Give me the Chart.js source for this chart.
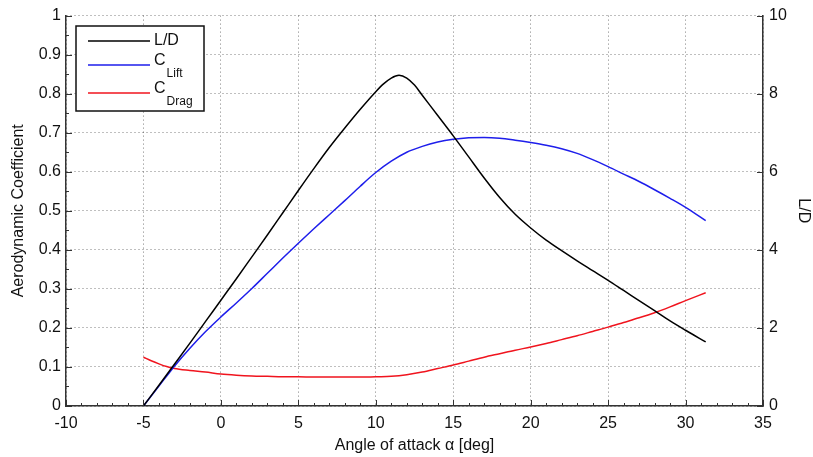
<html>
  <head>
    <script src="https://cdn.jsdelivr.net/npm/chart.js"></script>
    <style>
      body { margin: 0; background: #fff; }
      #wrap { width: 813px; height: 457px; }
    </style>
  </head>
  <body>
  <div id="wrap">
    <canvas id="myChart" width="813" height="457"></canvas>
  </div>
  <script>
// angle of attack [deg] and values
const ldAlpha = [-5, -4, -3, -2, -1, 0, 1, 2, 3, 4, 5, 6, 7, 8, 9, 10, 10.5, 11, 11.5, 12, 12.5, 13, 14, 15, 16, 17, 18, 19, 20, 21, 22, 23, 24, 25, 26, 27, 28, 29, 30, 31.3];
const ldValues = [0, 0.53, 1.07, 1.61, 2.16, 2.71, 3.26, 3.82, 4.38, 4.95, 5.52, 6.08, 6.62, 7.12, 7.6, 8.05, 8.25, 8.4, 8.47, 8.4, 8.22, 7.96, 7.44, 6.92, 6.38, 5.84, 5.34, 4.91, 4.56, 4.25, 3.98, 3.72, 3.47, 3.22, 2.96, 2.7, 2.44, 2.18, 1.94, 1.64];

const clAlpha = [-5, -4, -3, -2, -1, 0, 1, 2, 3, 4, 5, 6, 7, 8, 9, 10, 11, 12, 13, 14, 15, 16, 17, 18, 19, 20, 21, 22, 23, 24, 25, 26, 27, 28, 29, 30, 31.3];
const clValues = [0, 0.051, 0.102, 0.148, 0.19, 0.228, 0.264, 0.301, 0.34, 0.379, 0.417, 0.454, 0.49, 0.526, 0.563, 0.598, 0.627, 0.65, 0.665, 0.676, 0.683, 0.687, 0.688, 0.686, 0.681, 0.675, 0.668, 0.659, 0.647, 0.631, 0.613, 0.594, 0.575, 0.554, 0.532, 0.509, 0.475];

const cdAlpha = [-5, -4.5, -4, -3.5, -3, -2, -1, 0, 1, 2, 3, 4, 5, 6, 7, 8, 9, 10, 11, 12, 13, 14, 15, 16, 17, 18, 19, 20, 21, 22, 23, 24, 25, 26, 27, 28, 29, 30, 31.3];
const cdValues = [0.125, 0.116, 0.108, 0.101, 0.096, 0.091, 0.087, 0.082, 0.079, 0.077, 0.076, 0.075, 0.075, 0.074, 0.074, 0.074, 0.074, 0.075, 0.076, 0.08, 0.087, 0.096, 0.105, 0.115, 0.125, 0.134, 0.143, 0.151, 0.16, 0.17, 0.18, 0.191, 0.202, 0.214, 0.226, 0.239, 0.254, 0.27, 0.29];

const seriesNames = ['L/D', 'C', 'C'];
const seriesSubs = ['', 'Lift', 'Drag'];
const seriesColors = ['#000000', 'rgb(30,30,235)', 'rgb(240,20,30)'];

const FONT = '"Liberation Sans", Arial, sans-serif';

function pts(xs, ys) {
  let out = [];
  for (let i = 0; i < xs.length; i++) out.push({x: xs[i], y: ys[i]});
  return out;
}

// inward tick marks (matlab style)
const tickMarks = {
  id: 'tickMarks',
  afterDraw(chart) {
    const ctx = chart.ctx, a = chart.chartArea, s = chart.scales;
    ctx.save();
    ctx.strokeStyle = '#333';
    ctx.lineWidth = 1;
    ctx.beginPath();
    for (let v = -10; v <= 35; v += 1) {
      const px = Math.round(s.x.getPixelForValue(v)) + 0.5;
      const len = (v % 5 === 0) ? 6 : 3;
      ctx.moveTo(px, a.bottom);
      ctx.lineTo(px, a.bottom - len);
    }
    for (let i = 0; i <= 20; i++) {
      const py = Math.round(s.y.getPixelForValue(i * 0.05)) + 0.5;
      const len = (i % 2 === 0) ? 6 : 3;
      ctx.moveTo(a.left, py);
      ctx.lineTo(a.left + len, py);
    }
    for (let v = 0; v <= 10; v += 2) {
      const py = Math.round(s.y1.getPixelForValue(v)) + 0.5;
      ctx.moveTo(a.right, py);
      ctx.lineTo(a.right - 6, py);
    }
    ctx.stroke();
    ctx.restore();
  }
};

// legend box with subscripts
const boxLegend = {
  id: 'boxLegend',
  afterDraw(chart) {
    const ctx = chart.ctx;
    ctx.save();
    ctx.fillStyle = '#fff';
    ctx.fillRect(76, 26, 128, 85);
    ctx.strokeStyle = '#111';
    ctx.lineWidth = 1.5;
    ctx.strokeRect(76, 26, 128, 85);
    const rows = [41, 65, 93];
    for (let i = 0; i < 3; i++) {
      ctx.strokeStyle = seriesColors[i];
      ctx.lineWidth = 1.4;
      ctx.beginPath();
      ctx.moveTo(88, rows[i]);
      ctx.lineTo(150, rows[i]);
      ctx.stroke();
      ctx.fillStyle = '#111';
      ctx.textBaseline = 'middle';
      ctx.font = '16px ' + FONT;
      const ty = seriesSubs[i] ? rows[i] - 4 : rows[i];
      ctx.fillText(seriesNames[i], 154, ty);
      if (seriesSubs[i]) {
        const w = ctx.measureText(seriesNames[i]).width;
        ctx.font = '12px ' + FONT;
        ctx.fillText(seriesSubs[i], 155 + w, rows[i] + 9);
      }
    }
    ctx.restore();
  }
};

const tickFont = {family: FONT, size: 16};

const data = {
  datasets: [
    {label: 'L/D', data: pts(ldAlpha, ldValues), yAxisID: 'y1', borderColor: seriesColors[0]},
    {label: 'C_Lift', data: pts(clAlpha, clValues), yAxisID: 'y', borderColor: seriesColors[1]},
    {label: 'C_Drag', data: pts(cdAlpha, cdValues), yAxisID: 'y', borderColor: seriesColors[2]}
  ]
};
data.datasets.forEach(d => {
  d.borderWidth = 1.5;
  d.pointRadius = 0;
  d.fill = false;
  d.cubicInterpolationMode = 'monotone';
});

const config = {
  type: 'line',
  data: data,
  options: {
    responsive: false,
    animation: false,
    layout: {padding: {top: 15, left: 0, right: 0, bottom: 0}},
    plugins: {legend: {display: false}, tooltip: {enabled: false}},
    scales: {
      x: {
        type: 'linear', min: -10, max: 35,
        afterFit: (sc) => { sc.height = 51; },
        ticks: {stepSize: 5, padding: 8, color: '#111', font: tickFont},
        grid: {color: 'rgba(0,0,0,0.5)', drawTicks: false},
        border: {display: true, color: '#333', width: 1.5, dash: [1, 3]},
        title: {display: true, text: 'Angle of attack α [deg]', color: '#111',
                font: tickFont, padding: {top: 0, bottom: 2}}
      },
      y: {
        position: 'left', min: 0, max: 1,
        afterFit: (sc) => { sc.width = 66; },
        ticks: {stepSize: 0.1, padding: 5, color: '#111', font: tickFont,
                callback: (v) => Math.round(v * 10) / 10},
        grid: {color: 'rgba(0,0,0,0.5)', drawTicks: false},
        border: {display: true, color: '#333', width: 1.5, dash: [1, 3]},
        title: {display: true, text: 'Aerodynamic Coefficient', color: '#111',
                font: tickFont, padding: {top: 9, bottom: 0}}
      },
      y1: {
        position: 'right', min: 0, max: 10,
        afterFit: (sc) => { sc.width = 50; },
        ticks: {stepSize: 2, padding: 6, color: '#111', font: tickFont},
        grid: {drawOnChartArea: false, drawTicks: false},
        border: {display: true, color: '#333', width: 1.5},
        title: {display: true, text: 'L/D', color: '#111',
                font: tickFont, padding: {top: 0, bottom: 5}}
      }
    }
  },
  plugins: [tickMarks, boxLegend]
};

let myChart = new Chart(document.getElementById('myChart'), config);
  </script>
  </body>
</html>
